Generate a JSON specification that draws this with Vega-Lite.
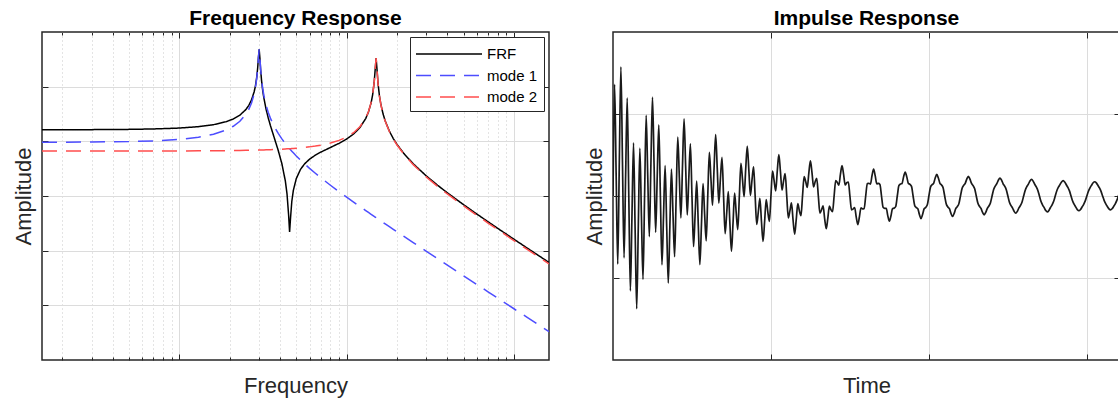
{
  "$schema": "https://vega.github.io/schema/vega-lite/v6.json",
  "background": "white",
  "padding": {"left": 11, "top": 6, "right": 0, "bottom": 0},
  "config": {
    "font": "Liberation Sans",
    "view": {"stroke": "#262626", "strokeWidth": 1.5},
    "axis": {"labels": false, "domain": false, "ticks": true, "tickColor": "#262626", "tickWidth": 1, "grid": true, "gridColor": "#dcdcdc", "gridWidth": 1, "titleFont": "Liberation Sans", "titleFontSize": 22, "titleFontWeight": "normal", "titleColor": "#262626"},
    "axisX": {"titlePadding": 15},
    "axisY": {"titlePadding": 6},
    "title": {"font": "Liberation Sans", "fontSize": 21, "fontWeight": "bold", "color": "#000000", "anchor": "middle", "offset": 3, "baseline": "alphabetic"},
    "concat": {"spacing": 29}
  },
  "hconcat": [
    {
      "title": {"text": "Frequency Response"},
      "width": 507,
      "height": 328,
      "data": {"values": [
        {"f": 0.151, "FRF": 0.01629, "mode 1": 0.00964, "mode 2": 0.006654},
        {"f": 0.2, "FRF": 0.016313, "mode 1": 0.009659, "mode 2": 0.006654},
        {"f": 0.3, "FRF": 0.016369, "mode 1": 0.009713, "mode 2": 0.006656},
        {"f": 0.5, "FRF": 0.016551, "mode 1": 0.009891, "mode 2": 0.00666},
        {"f": 0.7, "FRF": 0.016838, "mode 1": 0.01017, "mode 2": 0.006668},
        {"f": 1, "FRF": 0.017501, "mode 1": 0.010818, "mode 2": 0.006683},
        {"f": 1.3, "FRF": 0.018542, "mode 1": 0.011839, "mode 2": 0.006703},
        {"f": 1.6, "FRF": 0.02017, "mode 1": 0.013439, "mode 2": 0.00673},
        {"f": 1.9, "FRF": 0.022818, "mode 1": 0.016056, "mode 2": 0.006762},
        {"f": 2.1, "FRF": 0.025632, "mode 1": 0.018848, "mode 2": 0.006786},
        {"f": 2.3, "FRF": 0.03012, "mode 1": 0.023311, "mode 2": 0.006813},
        {"f": 2.5, "FRF": 0.038257, "mode 1": 0.031423, "mode 2": 0.006843},
        {"f": 2.6, "FRF": 0.045387, "mode 1": 0.038542, "mode 2": 0.006859},
        {"f": 2.7, "FRF": 0.057234, "mode 1": 0.050385, "mode 2": 0.006876},
        {"f": 2.8, "FRF": 0.080664, "mode 1": 0.073836, "mode 2": 0.006893},
        {"f": 2.85, "FRF": 0.10359, "mode 1": 0.096806, "mode 2": 0.006902},
        {"f": 2.9, "FRF": 0.147323, "mode 1": 0.140683, "mode 2": 0.006911},
        {"f": 2.94, "FRF": 0.223888, "mode 1": 0.217645, "mode 2": 0.006919},
        {"f": 2.97, "FRF": 0.347511, "mode 1": 0.342548, "mode 2": 0.006924},
        {"f": 3, "FRF": 0.48085, "mode 1": 0.4808, "mode 2": 0.00693},
        {"f": 3.03, "FRF": 0.332608, "mode 1": 0.337451, "mode 2": 0.006936},
        {"f": 3.06, "FRF": 0.20633, "mode 1": 0.212485, "mode 2": 0.006942},
        {"f": 3.1, "FRF": 0.129081, "mode 1": 0.135706, "mode 2": 0.00695},
        {"f": 3.15, "FRF": 0.0851, "mode 1": 0.091906, "mode 2": 0.00696},
        {"f": 3.2, "FRF": 0.062092, "mode 1": 0.068971, "mode 2": 0.00697},
        {"f": 3.3, "FRF": 0.038594, "mode 1": 0.045541, "mode 2": 0.006991},
        {"f": 3.4, "FRF": 0.026714, "mode 1": 0.0337, "mode 2": 0.007013},
        {"f": 3.5, "FRF": 0.019558, "mode 1": 0.026574, "mode 2": 0.007036},
        {"f": 3.7, "FRF": 0.011362, "mode 1": 0.018432, "mode 2": 0.007084},
        {"f": 3.9, "FRF": 0.006805, "mode 1": 0.013926, "mode 2": 0.007135},
        {"f": 4.1, "FRF": 0.0039, "mode 1": 0.011076, "mode 2": 0.00719},
        {"f": 4.3, "FRF": 0.001887, "mode 1": 0.009116, "mode 2": 0.007249},
        {"f": 4.4, "FRF": 0.0011, "mode 1": 0.008351, "mode 2": 0.007279},
        {"f": 4.5, "FRF": 0.000443, "mode 1": 0.007691, "mode 2": 0.007311},
        {"f": 4.56, "FRF": 0.000219, "mode 1": 0.007336, "mode 2": 0.00733},
        {"f": 4.62, "FRF": 0.000401, "mode 1": 0.007009, "mode 2": 0.00735},
        {"f": 4.7, "FRF": 0.000793, "mode 1": 0.00661, "mode 2": 0.007377},
        {"f": 4.8, "FRF": 0.001263, "mode 1": 0.006163, "mode 2": 0.007412},
        {"f": 5, "FRF": 0.002084, "mode 1": 0.005408, "mode 2": 0.007485},
        {"f": 5.3, "FRF": 0.003072, "mode 1": 0.004533, "mode 2": 0.007602},
        {"f": 5.6, "FRF": 0.003863, "mode 1": 0.00387, "mode 2": 0.007731},
        {"f": 6, "FRF": 0.004715, "mode 1": 0.003205, "mode 2": 0.00792},
        {"f": 6.5, "FRF": 0.005588, "mode 1": 0.002603, "mode 2": 0.008191},
        {"f": 7, "FRF": 0.006341, "mode 1": 0.002164, "mode 2": 0.008505},
        {"f": 8, "FRF": 0.007724, "mode 1": 0.001574, "mode 2": 0.009298},
        {"f": 9, "FRF": 0.009193, "mode 1": 0.001202, "mode 2": 0.010395},
        {"f": 10, "FRF": 0.011024, "mode 1": 0.000951, "mode 2": 0.011975},
        {"f": 11, "FRF": 0.013614, "mode 1": 0.000773, "mode 2": 0.014386},
        {"f": 12, "FRF": 0.017822, "mode 1": 0.000641, "mode 2": 0.018462},
        {"f": 13, "FRF": 0.026127, "mode 1": 0.000541, "mode 2": 0.026666},
        {"f": 13.5, "FRF": 0.034363, "mode 1": 0.0004995, "mode 2": 0.03486},
        {"f": 14, "FRF": 0.050629, "mode 1": 0.000463, "mode 2": 0.051086},
        {"f": 14.3, "FRF": 0.071004, "mode 1": 0.000443, "mode 2": 0.071438},
        {"f": 14.6, "FRF": 0.118181, "mode 1": 0.000424, "mode 2": 0.118577},
        {"f": 14.8, "FRF": 0.201095, "mode 1": 0.000412, "mode 2": 0.201423},
        {"f": 15, "FRF": 0.33265, "mode 1": 0.000401, "mode 2": 0.33265},
        {"f": 15.2, "FRF": 0.197995, "mode 1": 0.00039, "mode 2": 0.197741},
        {"f": 15.4, "FRF": 0.115412, "mode 1": 0.000379, "mode 2": 0.115064},
        {"f": 15.7, "FRF": 0.068401, "mode 1": 0.000364, "mode 2": 0.068044},
        {"f": 16, "FRF": 0.048065, "mode 1": 0.00035, "mode 2": 0.047719},
        {"f": 16.5, "FRF": 0.031836, "mode 1": 0.000329, "mode 2": 0.031508},
        {"f": 17, "FRF": 0.023625, "mode 1": 0.000309, "mode 2": 0.023316},
        {"f": 18, "FRF": 0.015373, "mode 1": 0.000275, "mode 2": 0.015098},
        {"f": 19, "FRF": 0.011243, "mode 1": 0.000246, "mode 2": 0.010997},
        {"f": 20, "FRF": 0.008772, "mode 1": 0.000221, "mode 2": 0.008551},
        {"f": 22, "FRF": 0.005961, "mode 1": 0.000182, "mode 2": 0.005779},
        {"f": 25, "FRF": 0.003883, "mode 1": 0.0001405, "mode 2": 0.003742},
        {"f": 30, "FRF": 0.002315, "mode 1": 0.0000971, "mode 2": 0.002218},
        {"f": 35, "FRF": 0.001568, "mode 1": 0.0000712, "mode 2": 0.001497},
        {"f": 40, "FRF": 0.001143, "mode 1": 0.0000544, "mode 2": 0.001089},
        {"f": 50, "FRF": 0.000693, "mode 1": 0.0000347, "mode 2": 0.000658},
        {"f": 60, "FRF": 0.0004676, "mode 1": 0.0000241, "mode 2": 0.0004435},
        {"f": 70, "FRF": 0.0003379, "mode 1": 0.0000177, "mode 2": 0.0003202},
        {"f": 80, "FRF": 0.0002559, "mode 1": 0.00001354, "mode 2": 0.0002424},
        {"f": 100, "FRF": 0.0001618, "mode 1": 0.00000866, "mode 2": 0.0001531},
        {"f": 120, "FRF": 0.0001116, "mode 1": 0.00000601, "mode 2": 0.0001056},
        {"f": 140, "FRF": 0.00008168, "mode 1": 0.00000442, "mode 2": 0.00007726},
        {"f": 162, "FRF": 0.00006083, "mode 1": 0.0000033, "mode 2": 0.00005753}
      ]},
      "transform": [{"fold": ["FRF", "mode 1", "mode 2"], "as": ["series", "amp"]}],
      "resolve": {"axis": {"x": "independent", "y": "independent"}},
      "layer": [
        {
          "mark": {"type": "line", "strokeWidth": 1.5, "clip": true},
          "encoding": {
            "x": {"field": "f", "type": "quantitative",
              "scale": {"type": "log", "domain": [0.151, 162], "nice": false},
              "axis": {"orient": "bottom", "title": "Frequency",
                "values": [0.2, 0.3, 0.4, 0.5, 0.6, 0.7, 0.8, 0.9, 1, 2, 3, 4, 5, 6, 7, 8, 9, 10, 20, 30, 40, 50, 60, 70, 80, 90, 100],
                "gridDash": {"condition": {"test": "datum.value == 1 || datum.value == 10 || datum.value == 100", "value": []}, "value": [1, 3]},
                "gridColor": {"condition": {"test": "datum.value == 1 || datum.value == 10 || datum.value == 100", "value": "#dcdcdc"}, "value": "#c8c8c8"},
                "tickSize": {"condition": {"test": "datum.value == 1 || datum.value == 10 || datum.value == 100", "value": -6}, "value": -3}}},
            "y": {"field": "amp", "type": "quantitative",
              "scale": {"type": "log", "domain": [0.000001, 1], "nice": false},
              "axis": {"orient": "left", "title": "Amplitude", "values": [0.00001, 0.0001, 0.001, 0.01, 0.1], "tickSize": -6}},
            "color": {"field": "series", "type": "nominal",
              "scale": {"domain": ["FRF", "mode 1", "mode 2"], "range": ["#000000", "#4d4dff", "#ff4d4d"]},
              "legend": {"title": null, "orient": "none", "legendX": 368, "legendY": 5, "symbolType": "M-3.3,0H3.3", "symbolSize": 400, "symbolStrokeWidth": 1.5, "symbolOffset": 22, "labelOffset": 27, "labelFont": "Liberation Sans", "labelFontSize": 15, "labelColor": "#000000", "padding": 6, "rowPadding": 2.5, "strokeColor": "#262626", "fillColor": "white"}},
            "strokeDash": {"field": "series", "type": "nominal",
              "scale": {"domain": ["FRF", "mode 1", "mode 2"], "range": [[1, 0], [15, 9], [15, 9]]},
              "legend": {"title": null, "orient": "none", "legendX": 368, "legendY": 5, "symbolType": "M-3.3,0H3.3", "symbolSize": 400, "symbolStrokeWidth": 1.5, "symbolOffset": 22, "labelOffset": 27, "labelFont": "Liberation Sans", "labelFontSize": 15, "labelColor": "#000000", "padding": 6, "rowPadding": 2.5, "strokeColor": "#262626", "fillColor": "white"}}
          }
        },
        {
          "mark": {"type": "point", "opacity": 0},
          "encoding": {
            "x": {"field": "f", "type": "quantitative",
              "scale": {"type": "log", "domain": [0.151, 162], "nice": false},
              "axis": {"orient": "top", "title": null, "grid": false,
                "values": [0.2, 0.3, 0.4, 0.5, 0.6, 0.7, 0.8, 0.9, 1, 2, 3, 4, 5, 6, 7, 8, 9, 10, 20, 30, 40, 50, 60, 70, 80, 90, 100],
                "tickSize": {"condition": {"test": "datum.value == 1 || datum.value == 10 || datum.value == 100", "value": -6}, "value": -3}}},
            "y": {"field": "amp", "type": "quantitative",
              "scale": {"type": "log", "domain": [0.000001, 1], "nice": false},
              "axis": {"orient": "right", "title": null, "grid": false, "values": [0.00001, 0.0001, 0.001, 0.01, 0.1], "tickSize": -6}}
          }
        }
      ]
    },
    {
      "title": {"text": "Impulse Response"},
      "width": 507,
      "height": 328,
      "data": {"values": [
        {"t":0,"y":0},{"t":0.01,"y":1.363},{"t":0.02,"y":0.257},{"t":0.03,"y":-0.832},{"t":0.04,"y":0.413},{"t":0.05,"y":1.576},{"t":0.06,"y":0.411},{"t":0.07,"y":-0.754},{"t":0.08,"y":0.252},{"t":0.09,"y":1.196},
        {"t":0.1,"y":0},{"t":0.11,"y":-1.157},{"t":0.12,"y":-0.249},{"t":0.13,"y":0.648},{"t":0.14,"y":-0.4},{"t":0.15,"y":-1.375},{"t":0.16,"y":-0.398},{"t":0.17,"y":0.584},{"t":0.18,"y":-0.244},{"t":0.19,"y":-1.017},
        {"t":0.2,"y":0},{"t":0.21,"y":0.985},{"t":0.22,"y":0.241},{"t":0.23,"y":-0.496},{"t":0.24,"y":0.388},{"t":0.25,"y":1.205},{"t":0.26,"y":0.386},{"t":0.27,"y":-0.443},{"t":0.28,"y":0.237},{"t":0.29,"y":0.867},
        {"t":0.3,"y":0},{"t":0.31,"y":-0.84},{"t":0.32,"y":-0.234},{"t":0.33,"y":0.371},{"t":0.34,"y":-0.376},{"t":0.35,"y":-1.061},{"t":0.36,"y":-0.374},{"t":0.37,"y":0.327},{"t":0.38,"y":-0.23},{"t":0.39,"y":-0.741},
        {"t":0.4,"y":0},{"t":0.41,"y":0.719},{"t":0.42,"y":0.227},{"t":0.43,"y":-0.267},{"t":0.44,"y":0.364},{"t":0.45,"y":0.94},{"t":0.46,"y":0.362},{"t":0.47,"y":-0.231},{"t":0.48,"y":0.222},{"t":0.49,"y":0.636},
        {"t":0.5,"y":0},{"t":0.51,"y":-0.617},{"t":0.52,"y":-0.22},{"t":0.53,"y":0.182},{"t":0.54,"y":-0.353},{"t":0.55,"y":-0.836},{"t":0.56,"y":-0.351},{"t":0.57,"y":0.152},{"t":0.58,"y":-0.216},{"t":0.59,"y":-0.547},
        {"t":0.6,"y":0},{"t":0.61,"y":0.531},{"t":0.62,"y":0.213},{"t":0.63,"y":-0.112},{"t":0.64,"y":0.342},{"t":0.65,"y":0.748},{"t":0.66,"y":0.34},{"t":0.67,"y":-0.087},{"t":0.68,"y":0.209},{"t":0.69,"y":0.472},
        {"t":0.7,"y":0},{"t":0.71,"y":-0.459},{"t":0.72,"y":-0.206},{"t":0.73,"y":0.054},{"t":0.74,"y":-0.332},{"t":0.75,"y":-0.673},{"t":0.76,"y":-0.33},{"t":0.77,"y":0.035},{"t":0.78,"y":-0.202},{"t":0.79,"y":-0.409},
        {"t":0.8,"y":0},{"t":0.81,"y":0.398},{"t":0.82,"y":0.2},{"t":0.83,"y":-0.008},{"t":0.84,"y":0.321},{"t":0.85,"y":0.609},{"t":0.86,"y":0.319},{"t":0.87,"y":0.008},{"t":0.88,"y":0.196},{"t":0.89,"y":0.356},
        {"t":0.9,"y":0},{"t":0.91,"y":-0.346},{"t":0.92,"y":-0.194},{"t":0.93,"y":-0.03},{"t":0.94,"y":-0.311},{"t":0.95,"y":-0.554},{"t":0.96,"y":-0.31},{"t":0.97,"y":-0.043},{"t":0.98,"y":-0.19},{"t":0.99,"y":-0.311},
        {"t":1,"y":0},{"t":1.01,"y":0.303},{"t":1.02,"y":0.188},{"t":1.03,"y":0.061},{"t":1.04,"y":0.302},{"t":1.05,"y":0.506},{"t":1.06,"y":0.3},{"t":1.07,"y":0.071},{"t":1.08,"y":0.184},{"t":1.09,"y":0.273},
        {"t":1.1,"y":0},{"t":1.11,"y":-0.267},{"t":1.12,"y":-0.182},{"t":1.13,"y":-0.085},{"t":1.14,"y":-0.293},{"t":1.15,"y":-0.465},{"t":1.16,"y":-0.291},{"t":1.17,"y":-0.093},{"t":1.18,"y":-0.179},{"t":1.19,"y":-0.241},
        {"t":1.2,"y":0},{"t":1.21,"y":0.236},{"t":1.22,"y":0.176},{"t":1.23,"y":0.104},{"t":1.24,"y":0.283},{"t":1.25,"y":0.43},{"t":1.26,"y":0.282},{"t":1.27,"y":0.111},{"t":1.28,"y":0.173},{"t":1.29,"y":0.214},
        {"t":1.3,"y":0},{"t":1.31,"y":-0.209},{"t":1.32,"y":-0.171},{"t":1.33,"y":-0.119},{"t":1.34,"y":-0.275},{"t":1.35,"y":-0.399},{"t":1.36,"y":-0.273},{"t":1.37,"y":-0.124},{"t":1.38,"y":-0.168},{"t":1.39,"y":-0.191},
        {"t":1.4,"y":0},{"t":1.41,"y":0.187},{"t":1.42,"y":0.166},{"t":1.43,"y":0.131},{"t":1.44,"y":0.266},{"t":1.45,"y":0.372},{"t":1.46,"y":0.265},{"t":1.47,"y":0.135},{"t":1.48,"y":0.162},{"t":1.49,"y":0.171},
        {"t":1.5,"y":0},{"t":1.51,"y":-0.168},{"t":1.52,"y":-0.16},{"t":1.53,"y":-0.14},{"t":1.54,"y":-0.258},{"t":1.55,"y":-0.348},{"t":1.56,"y":-0.256},{"t":1.57,"y":-0.143},{"t":1.58,"y":-0.157},{"t":1.59,"y":-0.155},
        {"t":1.6,"y":0},{"t":1.61,"y":0.152},{"t":1.62,"y":0.155},{"t":1.63,"y":0.146},{"t":1.64,"y":0.25},{"t":1.65,"y":0.327},{"t":1.66,"y":0.248},{"t":1.67,"y":0.148},{"t":1.68,"y":0.153},{"t":1.69,"y":0.14},
        {"t":1.7,"y":0},{"t":1.71,"y":-0.138},{"t":1.72,"y":-0.151},{"t":1.73,"y":-0.151},{"t":1.74,"y":-0.242},{"t":1.75,"y":-0.308},{"t":1.76,"y":-0.241},{"t":1.77,"y":-0.152},{"t":1.78,"y":-0.148},{"t":1.79,"y":-0.128},
        {"t":1.8,"y":0},{"t":1.81,"y":0.126},{"t":1.82,"y":0.146},{"t":1.83,"y":0.153},{"t":1.84,"y":0.235},{"t":1.85,"y":0.291},{"t":1.86,"y":0.233},{"t":1.87,"y":0.154},{"t":1.88,"y":0.143},{"t":1.89,"y":0.117},
        {"t":1.9,"y":0},{"t":1.91,"y":-0.115},{"t":1.92,"y":-0.141},{"t":1.93,"y":-0.155},{"t":1.94,"y":-0.227},{"t":1.95,"y":-0.276},{"t":1.96,"y":-0.226},{"t":1.97,"y":-0.155},{"t":1.98,"y":-0.139},{"t":1.99,"y":-0.108},
        {"t":2,"y":0},{"t":2.01,"y":0.106},{"t":2.02,"y":0.137},{"t":2.03,"y":0.155},{"t":2.04,"y":0.22},{"t":2.05,"y":0.263},{"t":2.06,"y":0.219},{"t":2.07,"y":0.155},{"t":2.08,"y":0.135},{"t":2.09,"y":0.1},
        {"t":2.1,"y":0},{"t":2.11,"y":-0.098},{"t":2.12,"y":-0.133},{"t":2.13,"y":-0.155},{"t":2.14,"y":-0.214},{"t":2.15,"y":-0.25},{"t":2.16,"y":-0.212},{"t":2.17,"y":-0.155},{"t":2.18,"y":-0.13},{"t":2.19,"y":-0.093},
        {"t":2.2,"y":0},{"t":2.21,"y":0.092},{"t":2.22,"y":0.129},{"t":2.23,"y":0.154},{"t":2.24,"y":0.207},{"t":2.25,"y":0.239},{"t":2.26,"y":0.206},{"t":2.27,"y":0.153},{"t":2.28,"y":0.126},{"t":2.29,"y":0.087},
        {"t":2.3,"y":0},{"t":2.31,"y":-0.086},{"t":2.32,"y":-0.125},{"t":2.33,"y":-0.152},{"t":2.34,"y":-0.201},{"t":2.35,"y":-0.229},{"t":2.36,"y":-0.199},{"t":2.37,"y":-0.151},{"t":2.38,"y":-0.122},{"t":2.39,"y":-0.081},
        {"t":2.4,"y":0},{"t":2.41,"y":0.08},{"t":2.42,"y":0.121},{"t":2.43,"y":0.15},{"t":2.44,"y":0.194},{"t":2.45,"y":0.219},{"t":2.46,"y":0.193},{"t":2.47,"y":0.149},{"t":2.48,"y":0.119},{"t":2.49,"y":0.077},
        {"t":2.5,"y":0},{"t":2.51,"y":-0.076},{"t":2.52,"y":-0.117},{"t":2.53,"y":-0.147},{"t":2.54,"y":-0.188},{"t":2.55,"y":-0.21},{"t":2.56,"y":-0.187},{"t":2.57,"y":-0.146},{"t":2.58,"y":-0.115},{"t":2.59,"y":-0.072},
        {"t":2.6,"y":0},{"t":2.61,"y":0.071},{"t":2.62,"y":0.114},{"t":2.63,"y":0.145},{"t":2.64,"y":0.183},{"t":2.65,"y":0.202},{"t":2.66,"y":0.181},{"t":2.67,"y":0.143},{"t":2.68,"y":0.111},{"t":2.69,"y":0.068},
        {"t":2.7,"y":0},{"t":2.71,"y":-0.068},{"t":2.72,"y":-0.11},{"t":2.73,"y":-0.142},{"t":2.74,"y":-0.177},{"t":2.75,"y":-0.194},{"t":2.76,"y":-0.176},{"t":2.77,"y":-0.14},{"t":2.78,"y":-0.108},{"t":2.79,"y":-0.065},
        {"t":2.8,"y":0},{"t":2.81,"y":0.064},{"t":2.82,"y":0.107},{"t":2.83,"y":0.139},{"t":2.84,"y":0.171},{"t":2.85,"y":0.187},{"t":2.86,"y":0.17},{"t":2.87,"y":0.137},{"t":2.88,"y":0.105},{"t":2.89,"y":0.062},
        {"t":2.9,"y":0},{"t":2.91,"y":-0.061},{"t":2.92,"y":-0.103},{"t":2.93,"y":-0.135},{"t":2.94,"y":-0.166},{"t":2.95,"y":-0.18},{"t":2.96,"y":-0.165},{"t":2.97,"y":-0.134},{"t":2.98,"y":-0.101},{"t":2.99,"y":-0.059},
        {"t":3,"y":0},{"t":3.01,"y":0.058},{"t":3.02,"y":0.1},{"t":3.03,"y":0.132},{"t":3.04,"y":0.161},{"t":3.05,"y":0.174},{"t":3.06,"y":0.16},{"t":3.07,"y":0.131},{"t":3.08,"y":0.098},{"t":3.09,"y":0.056},
        {"t":3.1,"y":0},{"t":3.11,"y":-0.056},{"t":3.12,"y":-0.097},{"t":3.13,"y":-0.129},{"t":3.14,"y":-0.156},{"t":3.15,"y":-0.168},{"t":3.16,"y":-0.155},{"t":3.17,"y":-0.127},{"t":3.18,"y":-0.095},{"t":3.19,"y":-0.054},
        {"t":3.2,"y":0},{"t":3.21,"y":0.054},{"t":3.22,"y":0.094}
      ]},
      "resolve": {"axis": {"x": "independent", "y": "independent"}},
      "layer": [
        {
          "mark": {"type": "line", "color": "#1a1a1a", "strokeWidth": 1.7, "interpolate": "monotone", "clip": true},
          "encoding": {
            "x": {"field": "t", "type": "quantitative", "scale": {"domain": [0, 3.21], "nice": false, "zero": false}, "axis": {"orient": "bottom", "title": "Time", "values": [1, 2, 3], "tickSize": -6}},
            "y": {"field": "y", "type": "quantitative", "scale": {"domain": [-2, 2], "nice": false}, "axis": {"orient": "left", "title": "Amplitude", "values": [-1, 0, 1], "tickSize": -6}}
          }
        },
        {
          "mark": {"type": "point", "opacity": 0, "clip": true},
          "encoding": {
            "x": {"field": "t", "type": "quantitative", "scale": {"domain": [0, 3.21], "nice": false, "zero": false}, "axis": {"orient": "top", "title": null, "grid": false, "values": [1, 2, 3], "tickSize": -6}},
            "y": {"field": "y", "type": "quantitative", "scale": {"domain": [-2, 2], "nice": false}, "axis": {"orient": "right", "title": null, "grid": false, "values": [-1, 0, 1], "tickSize": -6}}
          }
        }
      ]
    }
  ]
}
